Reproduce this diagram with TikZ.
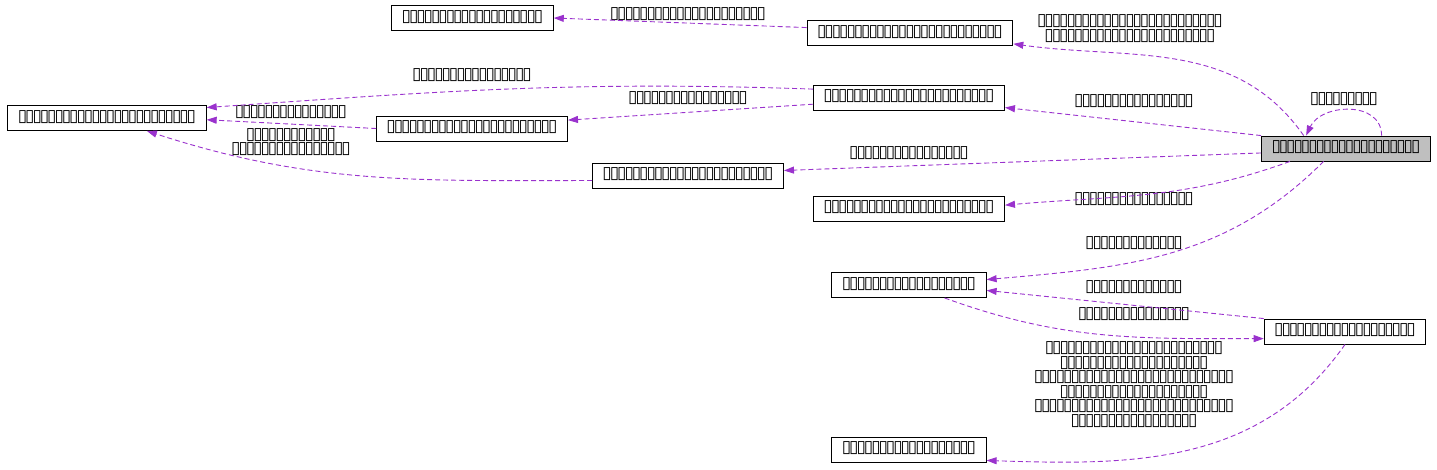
\documentclass[tikz,border=0pt]{standalone}
\usepackage{fontspec}
\setmainfont{DejaVu Sans}
\usetikzlibrary{arrows.meta}
\definecolor{edgecol}{RGB}{154,50,205}
\definecolor{maingray}{RGB}{191,191,191}
\ExplSyntaxOn
\NewDocumentCommand\tofu{m}{\prg_replicate:nn{#1}{\makebox[7.35pt]{\fontsize{17}{17}\selectfont\smash{▯}}}}
\ExplSyntaxOff

\begin{document}
\begin{tikzpicture} [x=1pt, y=1pt, %
  cls/.style={draw=black, rectangle, line width=0.9pt, inner xsep=11pt, inner ysep=0pt, %
    minimum height=25pt, text height=7pt, text depth=1pt, font=\fontsize{10}{12}\selectfont}, %
  lbl/.style={align=center, inner sep=0pt, yshift=-4.5pt, font=\fontsize{10}{14.6}\selectfont}, %
  dep/.style={draw=edgecol, line width=0.9pt, dash pattern=on 5pt off 3pt, %
    -{Triangle[length=10pt,width=7pt]}}] %
\useasboundingbox (0,0) rectangle (1437,-469); %
% classes
\node [cls, fill=maingray] (main) at (1346,-148.5) {\tofu{20}}; %
\node [cls] (upper) at (910,-33) {\tofu{25}}; %
\node [cls] (base) at (472.5,-18) {\tofu{19}}; %
\node [cls] (holder) at (909,-97.5) {\tofu{23}}; %
\node [cls] (root) at (107,-118) {\tofu{24}}; %
\node [cls] (mid) at (472,-128.5) {\tofu{23}}; %
\node [cls] (link) at (688,-175.5) {\tofu{23}}; %
\node [cls] (side) at (909,-208.5) {\tofu{23}}; %
\node [cls] (pool) at (909,-285) {\tofu{18}}; %
\node [cls] (item) at (1345,-331.5) {\tofu{19}}; %
\node [cls] (leaf) at (909,-449.5) {\tofu{18}}; %
 %
% member labels
\node [lbl] (l-upper) at (1130,-28.5) {\tofu{25}\\\tofu{23}}; %
\node [lbl] (l-base) at (688,-14) {\tofu{21}}; %
\node [lbl] (l-root1) at (472,-75) {\tofu{16}}; %
\node [lbl] (l-mid) at (688,-98) {\tofu{16}}; %
\node [lbl] (l-root2) at (291,-112) {\tofu{15}}; %
\node [lbl] (l-root3) at (291,-142) {\tofu{12}\\\tofu{16}}; %
\node [lbl] (l-holder) at (1134,-101) {\tofu{16}}; %
\node [lbl] (l-link) at (909,-153) {\tofu{16}}; %
\node [lbl] (l-side) at (1134,-199) {\tofu{16}}; %
\node [lbl] (l-pool1) at (1134,-243) {\tofu{13}}; %
\node [lbl] (l-pool2) at (1134,-287) {\tofu{13}}; %
\node [lbl] (l-item) at (1134,-314) {\tofu{15}}; %
\node [lbl] (l-leaf) at (1134,-384.5) %
  {\tofu{24}\\\tofu{20}\\\tofu{27}\\\tofu{20}\\\tofu{27}\\\tofu{17}}; %
\node [lbl] (l-self) at (1344,-99) {\tofu{9}}; %
 %
% usage edges
\draw [dep] (main.163) to[out=125, in=-8] (upper.-6); %
\draw [dep] (upper.177) -- (base.east); %
\draw [dep] (main.north west) -- (holder.-6); %
\draw [dep] (holder.175) to[out=178, in=4] (root.6); %
\draw [dep] (holder.184) -- (mid.5); %
\draw [dep] (mid.west) -- (root.-1); %
\draw [dep] (link.183) to[out=180, in=-18] (root.-18); %
\draw [dep] (main.183) -- (link.3); %
\draw [dep] (main.193) to[out=200, in=5] (side.2); %
\draw [dep] (main.210) to[out=225, in=5] (pool.4); %
\draw [dep] (item.north west) -- (pool.-4); %
\draw [dep] (pool.-20) to[out=-20, in=180] (item.185); %
\draw [dep] (item.south) to[out=235, in=-2] (leaf.-8); %
\draw [dep] (main.20) to[out=90, in=65, looseness=1.2] (main.162); %
\end{tikzpicture}
\end{document}
